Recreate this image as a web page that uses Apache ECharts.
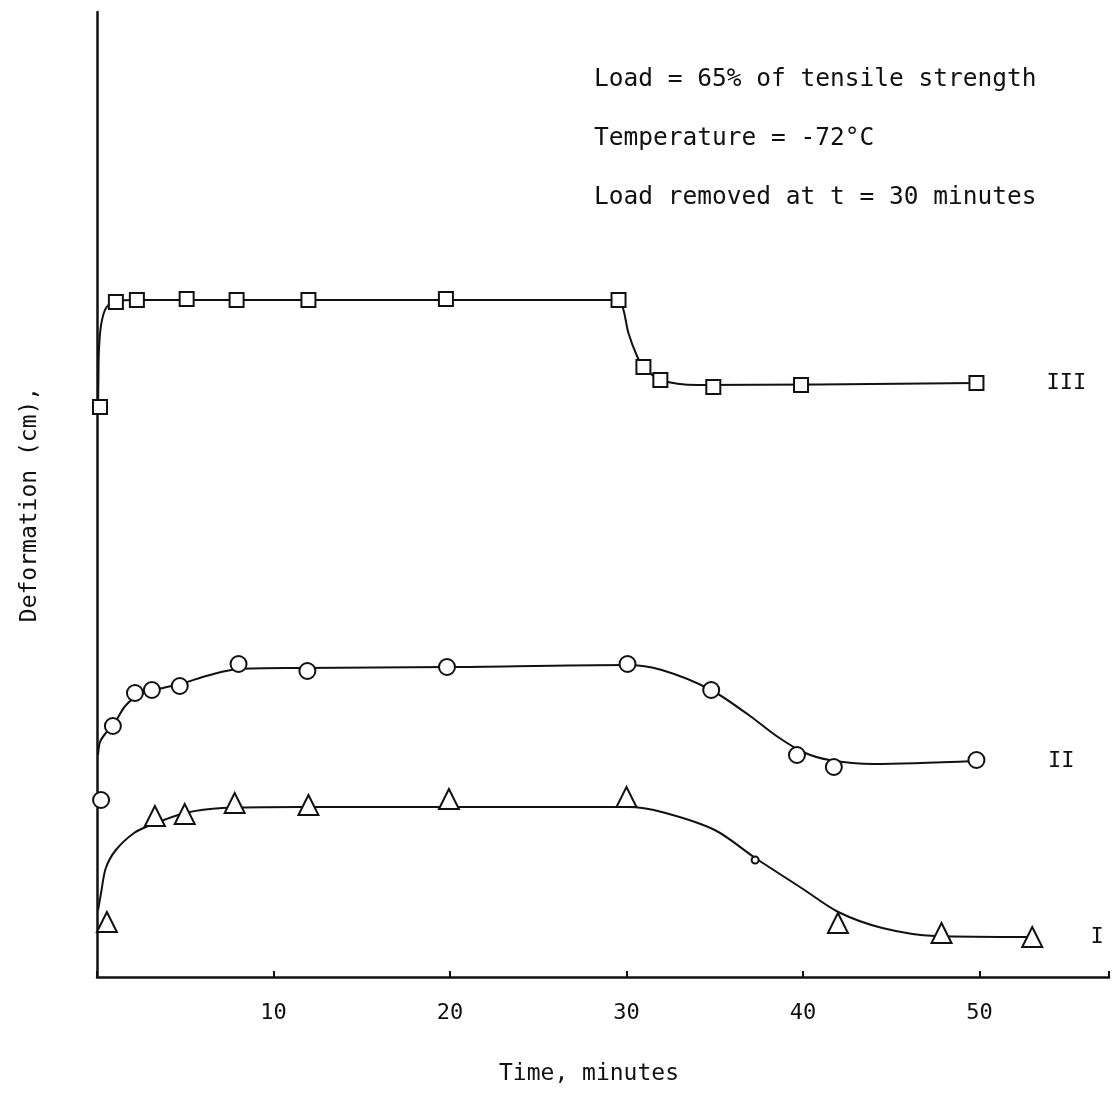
<!DOCTYPE html>
<html>
<head>
<meta charset="utf-8">
<script src="https://cdn.jsdelivr.net/npm/echarts@6/dist/echarts.min.js"></script>
<style>
  html, body { margin: 0; padding: 0; background: #fff; }
  #chart { width: 1112px; height: 1093px; }
</style>
</head>
<body>
<div id="chart"></div>
<script>
// Creep recovery test: deformation versus time for three specimens.
const seriesNames = ['I', 'II', 'III'];
const xTickValues = [10, 20, 30, 40, 50];

// Specimen III (squares): measured points and the drawn curve
const sqT = [0.17, 1.07, 2.26, 5.08, 7.91, 11.98, 19.77, 29.55, 30.96, 31.92, 34.92, 39.89, 49.83];
const sqD = [5.70, 6.75, 6.77, 6.78, 6.77, 6.77, 6.78, 6.77, 6.10, 5.97, 5.90, 5.92, 5.94];
const curveIIIT = [0.06, 0.08, 0.11, 0.23, 0.51, 1.07, 2.26, 29.55, 29.83, 30.11, 30.62, 30.96, 31.92, 34.07, 49.83];
const curveIIID = [5.70, 5.97, 6.27, 6.52, 6.69, 6.76, 6.77, 6.77, 6.67, 6.44, 6.20, 6.10, 5.97, 5.92, 5.94];

// Specimen II (circles)
const ciT = [0.23, 0.90, 2.15, 3.11, 4.69, 8.02, 11.92, 19.83, 30.06, 34.80, 39.66, 41.75, 49.83];
const ciD = [1.77, 2.51, 2.84, 2.87, 2.91, 3.13, 3.06, 3.10, 3.13, 2.87, 2.22, 2.10, 2.17];
const curveIIT = [0.06, 0.17, 0.5, 0.9, 1.6, 2.4, 3.5, 4.7, 6.4, 8.0, 11.5, 20, 30, 32, 34.8, 37, 38.5, 40, 41.5, 44, 49.8];
const curveIID = [2.22, 2.35, 2.44, 2.51, 2.71, 2.82, 2.88, 2.93, 3.02, 3.08, 3.09, 3.10, 3.12, 3.07, 2.87, 2.61, 2.41, 2.25, 2.17, 2.13, 2.16];

// Specimen I (triangles)
const trT = [0.56, 3.28, 4.97, 7.80, 11.98, 19.94, 30.0, 41.98, 47.85, 52.99];
const trD = [0.55, 1.61, 1.63, 1.74, 1.72, 1.78, 1.80, 0.54, 0.44, 0.40];
const dotT = [37.29];
const dotD = [1.17];
const curveIT = [0.06, 0.23, 0.5, 1.07, 2.1, 3.05, 5.0, 7.1, 11.5, 30.1, 32, 35, 37.3, 40, 42, 44.5, 47.5, 53];
const curveID = [0.67, 0.84, 1.09, 1.27, 1.44, 1.52, 1.64, 1.69, 1.70, 1.70, 1.65, 1.47, 1.19, 0.88, 0.65, 0.49, 0.41, 0.40];

const notes = [
  'Load = 65% of tensile strength',
  'Temperature = -72\u00b0C',
  'Load removed at t = 30 minutes'
];

const FONT = '"DejaVu Sans Mono", monospace';
const INK = '#111';

const pairs = (xs, ys) => xs.map((x, i) => [x, ys[i]]);

function curve(name, xs, ys, labelGap) {
  return {
    type: 'line',
    name: name,
    data: pairs(xs, ys),
    smooth: 0.3,
    showSymbol: false,
    symbol: 'none',
    lineStyle: { color: INK, width: 2 },
    z: 2,
    silent: true,
    endLabel: {
      show: true,
      formatter: name,
      distance: labelGap,
      color: INK,
      fontFamily: FONT,
      fontSize: 22
    }
  };
}

function markers(xs, ys, symbol, size) {
  return {
    type: 'scatter',
    data: pairs(xs, ys),
    symbol: symbol,
    symbolSize: size,
    itemStyle: { color: '#fff', borderColor: INK, borderWidth: 2, opacity: 1 },
    z: 5,
    silent: true
  };
}

const chart = echarts.init(document.getElementById('chart'), null, { renderer: 'canvas' });
chart.setOption({
  backgroundColor: '#fff',
  animation: false,
  grid: { left: 97, right: 0, top: 12, bottom: 116, containLabel: false },
  xAxis: {
    type: 'value',
    min: 0,
    max: 57.34,
    interval: 10,
    name: 'Time, minutes',
    nameLocation: 'middle',
    nameGap: 86,
    nameTextStyle: { fontFamily: FONT, fontSize: 23, color: INK, padding: [0, 28, 0, 0] },
    axisLine: { show: true, lineStyle: { color: INK, width: 2.5 } },
    axisTick: { show: true, inside: true, length: 6, lineStyle: { color: INK, width: 2 } },
    axisLabel: {
      margin: 25,
      color: INK,
      fontFamily: FONT,
      fontSize: 22,
      formatter: v => (xTickValues.indexOf(v) >= 0 ? String(v) : '')
    },
    splitLine: { show: false }
  },
  yAxis: {
    type: 'value',
    min: 0,
    max: 9.65,
    name: 'Deformation (cm),',
    nameLocation: 'middle',
    nameRotate: 90,
    nameGap: 55,
    nameTextStyle: { fontFamily: FONT, fontSize: 23, color: INK, padding: [0, 20, 0, 0] },
    axisLine: { show: true, lineStyle: { color: INK, width: 2.5 } },
    axisTick: { show: false },
    axisLabel: { show: false },
    splitLine: { show: false }
  },
  graphic: notes.map((t, i) => ({
    type: 'text',
    left: 594,
    top: [67, 126, 185][i],
    style: { text: t, fontFamily: FONT, fontSize: 24.5, fill: INK }
  })),
  series: [
    curve(seriesNames[2], curveIIIT, curveIIID, 70),
    curve(seriesNames[1], curveIIT, curveIID, 72),
    curve(seriesNames[0], curveIT, curveID, 58),
    markers(sqT, sqD, 'rect', 14),
    markers(ciT, ciD, 'circle', 16),
    markers(trT, trD, 'triangle', 20),
    markers(dotT, dotD, 'circle', 7)
  ]
});
</script>
</body>
</html>
